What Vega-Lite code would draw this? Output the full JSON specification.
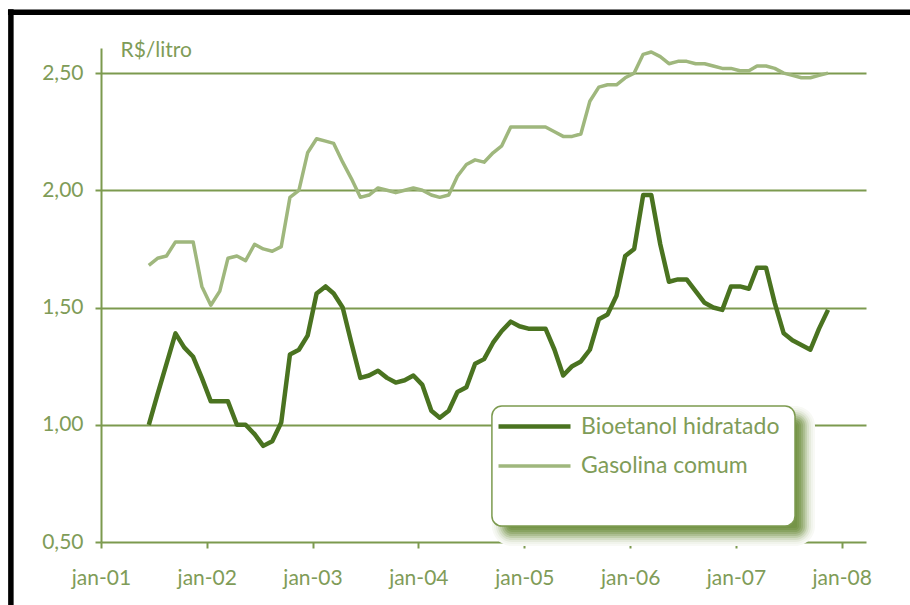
{
  "$schema": "https://vega.github.io/schema/vega-lite/v6.json",
  "width": 765,
  "height": 494,
  "autosize": {"type": "none"},
  "padding": {"left": 101, "top": 48, "right": 44, "bottom": 63},
  "background": "white",
  "config": {
    "view": {"stroke": null},
    "font": "Lato",
    "axis": {
      "labelFont": "Lato",
      "labelFontSize": 21,
      "labelColor": "#7f9c58",
      "tickColor": "#7c9a4f",
      "tickWidth": 2,
      "tickSize": 6,
      "domainColor": "#7c9a4f",
      "domainWidth": 2,
      "gridColor": "#7c9a4f",
      "gridWidth": 2,
      "gridOpacity": 1,
      "titleFont": "Lato",
      "titleFontSize": 21,
      "titleFontWeight": "normal",
      "titleColor": "#7f9c58"
    },
    "legend": {
      "labelFont": "Lato",
      "labelFontSize": 23,
      "labelColor": "#7f9c58",
      "labelLimit": 0
    }
  },
  "datasets": {
    "precos": [
      {"mes": "2001-06-15", "serie": "Bioetanol hidratado", "preco": 1.00},
      {"mes": "2001-07-15", "serie": "Bioetanol hidratado", "preco": 1.13},
      {"mes": "2001-08-15", "serie": "Bioetanol hidratado", "preco": 1.26},
      {"mes": "2001-09-15", "serie": "Bioetanol hidratado", "preco": 1.39},
      {"mes": "2001-10-15", "serie": "Bioetanol hidratado", "preco": 1.33},
      {"mes": "2001-11-15", "serie": "Bioetanol hidratado", "preco": 1.29},
      {"mes": "2001-12-15", "serie": "Bioetanol hidratado", "preco": 1.20},
      {"mes": "2002-01-15", "serie": "Bioetanol hidratado", "preco": 1.10},
      {"mes": "2002-02-15", "serie": "Bioetanol hidratado", "preco": 1.10},
      {"mes": "2002-03-15", "serie": "Bioetanol hidratado", "preco": 1.10},
      {"mes": "2002-04-15", "serie": "Bioetanol hidratado", "preco": 1.00},
      {"mes": "2002-05-15", "serie": "Bioetanol hidratado", "preco": 1.00},
      {"mes": "2002-06-15", "serie": "Bioetanol hidratado", "preco": 0.96},
      {"mes": "2002-07-15", "serie": "Bioetanol hidratado", "preco": 0.91},
      {"mes": "2002-08-15", "serie": "Bioetanol hidratado", "preco": 0.93},
      {"mes": "2002-09-15", "serie": "Bioetanol hidratado", "preco": 1.01},
      {"mes": "2002-10-15", "serie": "Bioetanol hidratado", "preco": 1.30},
      {"mes": "2002-11-15", "serie": "Bioetanol hidratado", "preco": 1.32},
      {"mes": "2002-12-15", "serie": "Bioetanol hidratado", "preco": 1.38},
      {"mes": "2003-01-15", "serie": "Bioetanol hidratado", "preco": 1.56},
      {"mes": "2003-02-15", "serie": "Bioetanol hidratado", "preco": 1.59},
      {"mes": "2003-03-15", "serie": "Bioetanol hidratado", "preco": 1.56},
      {"mes": "2003-04-15", "serie": "Bioetanol hidratado", "preco": 1.50},
      {"mes": "2003-05-15", "serie": "Bioetanol hidratado", "preco": 1.35},
      {"mes": "2003-06-15", "serie": "Bioetanol hidratado", "preco": 1.20},
      {"mes": "2003-07-15", "serie": "Bioetanol hidratado", "preco": 1.21},
      {"mes": "2003-08-15", "serie": "Bioetanol hidratado", "preco": 1.23},
      {"mes": "2003-09-15", "serie": "Bioetanol hidratado", "preco": 1.20},
      {"mes": "2003-10-15", "serie": "Bioetanol hidratado", "preco": 1.18},
      {"mes": "2003-11-15", "serie": "Bioetanol hidratado", "preco": 1.19},
      {"mes": "2003-12-15", "serie": "Bioetanol hidratado", "preco": 1.21},
      {"mes": "2004-01-15", "serie": "Bioetanol hidratado", "preco": 1.17},
      {"mes": "2004-02-15", "serie": "Bioetanol hidratado", "preco": 1.06},
      {"mes": "2004-03-15", "serie": "Bioetanol hidratado", "preco": 1.03},
      {"mes": "2004-04-15", "serie": "Bioetanol hidratado", "preco": 1.06},
      {"mes": "2004-05-15", "serie": "Bioetanol hidratado", "preco": 1.14},
      {"mes": "2004-06-15", "serie": "Bioetanol hidratado", "preco": 1.16},
      {"mes": "2004-07-15", "serie": "Bioetanol hidratado", "preco": 1.26},
      {"mes": "2004-08-15", "serie": "Bioetanol hidratado", "preco": 1.28},
      {"mes": "2004-09-15", "serie": "Bioetanol hidratado", "preco": 1.35},
      {"mes": "2004-10-15", "serie": "Bioetanol hidratado", "preco": 1.40},
      {"mes": "2004-11-15", "serie": "Bioetanol hidratado", "preco": 1.44},
      {"mes": "2004-12-15", "serie": "Bioetanol hidratado", "preco": 1.42},
      {"mes": "2005-01-15", "serie": "Bioetanol hidratado", "preco": 1.41},
      {"mes": "2005-02-15", "serie": "Bioetanol hidratado", "preco": 1.41},
      {"mes": "2005-03-15", "serie": "Bioetanol hidratado", "preco": 1.41},
      {"mes": "2005-04-15", "serie": "Bioetanol hidratado", "preco": 1.32},
      {"mes": "2005-05-15", "serie": "Bioetanol hidratado", "preco": 1.21},
      {"mes": "2005-06-15", "serie": "Bioetanol hidratado", "preco": 1.25},
      {"mes": "2005-07-15", "serie": "Bioetanol hidratado", "preco": 1.27},
      {"mes": "2005-08-15", "serie": "Bioetanol hidratado", "preco": 1.32},
      {"mes": "2005-09-15", "serie": "Bioetanol hidratado", "preco": 1.45},
      {"mes": "2005-10-15", "serie": "Bioetanol hidratado", "preco": 1.47},
      {"mes": "2005-11-15", "serie": "Bioetanol hidratado", "preco": 1.55},
      {"mes": "2005-12-15", "serie": "Bioetanol hidratado", "preco": 1.72},
      {"mes": "2006-01-15", "serie": "Bioetanol hidratado", "preco": 1.75},
      {"mes": "2006-02-15", "serie": "Bioetanol hidratado", "preco": 1.98},
      {"mes": "2006-03-15", "serie": "Bioetanol hidratado", "preco": 1.98},
      {"mes": "2006-04-15", "serie": "Bioetanol hidratado", "preco": 1.77},
      {"mes": "2006-05-15", "serie": "Bioetanol hidratado", "preco": 1.61},
      {"mes": "2006-06-15", "serie": "Bioetanol hidratado", "preco": 1.62},
      {"mes": "2006-07-15", "serie": "Bioetanol hidratado", "preco": 1.62},
      {"mes": "2006-08-15", "serie": "Bioetanol hidratado", "preco": 1.57},
      {"mes": "2006-09-15", "serie": "Bioetanol hidratado", "preco": 1.52},
      {"mes": "2006-10-15", "serie": "Bioetanol hidratado", "preco": 1.50},
      {"mes": "2006-11-15", "serie": "Bioetanol hidratado", "preco": 1.49},
      {"mes": "2006-12-15", "serie": "Bioetanol hidratado", "preco": 1.59},
      {"mes": "2007-01-15", "serie": "Bioetanol hidratado", "preco": 1.59},
      {"mes": "2007-02-15", "serie": "Bioetanol hidratado", "preco": 1.58},
      {"mes": "2007-03-15", "serie": "Bioetanol hidratado", "preco": 1.67},
      {"mes": "2007-04-15", "serie": "Bioetanol hidratado", "preco": 1.67},
      {"mes": "2007-05-15", "serie": "Bioetanol hidratado", "preco": 1.52},
      {"mes": "2007-06-15", "serie": "Bioetanol hidratado", "preco": 1.39},
      {"mes": "2007-07-15", "serie": "Bioetanol hidratado", "preco": 1.36},
      {"mes": "2007-08-15", "serie": "Bioetanol hidratado", "preco": 1.34},
      {"mes": "2007-09-15", "serie": "Bioetanol hidratado", "preco": 1.32},
      {"mes": "2007-10-15", "serie": "Bioetanol hidratado", "preco": 1.41},
      {"mes": "2007-11-15", "serie": "Bioetanol hidratado", "preco": 1.49},
      {"mes": "2001-06-15", "serie": "Gasolina comum", "preco": 1.68},
      {"mes": "2001-07-15", "serie": "Gasolina comum", "preco": 1.71},
      {"mes": "2001-08-15", "serie": "Gasolina comum", "preco": 1.72},
      {"mes": "2001-09-15", "serie": "Gasolina comum", "preco": 1.78},
      {"mes": "2001-10-15", "serie": "Gasolina comum", "preco": 1.78},
      {"mes": "2001-11-15", "serie": "Gasolina comum", "preco": 1.78},
      {"mes": "2001-12-15", "serie": "Gasolina comum", "preco": 1.59},
      {"mes": "2002-01-15", "serie": "Gasolina comum", "preco": 1.51},
      {"mes": "2002-02-15", "serie": "Gasolina comum", "preco": 1.57},
      {"mes": "2002-03-15", "serie": "Gasolina comum", "preco": 1.71},
      {"mes": "2002-04-15", "serie": "Gasolina comum", "preco": 1.72},
      {"mes": "2002-05-15", "serie": "Gasolina comum", "preco": 1.70},
      {"mes": "2002-06-15", "serie": "Gasolina comum", "preco": 1.77},
      {"mes": "2002-07-15", "serie": "Gasolina comum", "preco": 1.75},
      {"mes": "2002-08-15", "serie": "Gasolina comum", "preco": 1.74},
      {"mes": "2002-09-15", "serie": "Gasolina comum", "preco": 1.76},
      {"mes": "2002-10-15", "serie": "Gasolina comum", "preco": 1.97},
      {"mes": "2002-11-15", "serie": "Gasolina comum", "preco": 2.00},
      {"mes": "2002-12-15", "serie": "Gasolina comum", "preco": 2.16},
      {"mes": "2003-01-15", "serie": "Gasolina comum", "preco": 2.22},
      {"mes": "2003-02-15", "serie": "Gasolina comum", "preco": 2.21},
      {"mes": "2003-03-15", "serie": "Gasolina comum", "preco": 2.20},
      {"mes": "2003-04-15", "serie": "Gasolina comum", "preco": 2.12},
      {"mes": "2003-05-15", "serie": "Gasolina comum", "preco": 2.05},
      {"mes": "2003-06-15", "serie": "Gasolina comum", "preco": 1.97},
      {"mes": "2003-07-15", "serie": "Gasolina comum", "preco": 1.98},
      {"mes": "2003-08-15", "serie": "Gasolina comum", "preco": 2.01},
      {"mes": "2003-09-15", "serie": "Gasolina comum", "preco": 2.00},
      {"mes": "2003-10-15", "serie": "Gasolina comum", "preco": 1.99},
      {"mes": "2003-11-15", "serie": "Gasolina comum", "preco": 2.00},
      {"mes": "2003-12-15", "serie": "Gasolina comum", "preco": 2.01},
      {"mes": "2004-01-15", "serie": "Gasolina comum", "preco": 2.00},
      {"mes": "2004-02-15", "serie": "Gasolina comum", "preco": 1.98},
      {"mes": "2004-03-15", "serie": "Gasolina comum", "preco": 1.97},
      {"mes": "2004-04-15", "serie": "Gasolina comum", "preco": 1.98},
      {"mes": "2004-05-15", "serie": "Gasolina comum", "preco": 2.06},
      {"mes": "2004-06-15", "serie": "Gasolina comum", "preco": 2.11},
      {"mes": "2004-07-15", "serie": "Gasolina comum", "preco": 2.13},
      {"mes": "2004-08-15", "serie": "Gasolina comum", "preco": 2.12},
      {"mes": "2004-09-15", "serie": "Gasolina comum", "preco": 2.16},
      {"mes": "2004-10-15", "serie": "Gasolina comum", "preco": 2.19},
      {"mes": "2004-11-15", "serie": "Gasolina comum", "preco": 2.27},
      {"mes": "2004-12-15", "serie": "Gasolina comum", "preco": 2.27},
      {"mes": "2005-01-15", "serie": "Gasolina comum", "preco": 2.27},
      {"mes": "2005-02-15", "serie": "Gasolina comum", "preco": 2.27},
      {"mes": "2005-03-15", "serie": "Gasolina comum", "preco": 2.27},
      {"mes": "2005-04-15", "serie": "Gasolina comum", "preco": 2.25},
      {"mes": "2005-05-15", "serie": "Gasolina comum", "preco": 2.23},
      {"mes": "2005-06-15", "serie": "Gasolina comum", "preco": 2.23},
      {"mes": "2005-07-15", "serie": "Gasolina comum", "preco": 2.24},
      {"mes": "2005-08-15", "serie": "Gasolina comum", "preco": 2.38},
      {"mes": "2005-09-15", "serie": "Gasolina comum", "preco": 2.44},
      {"mes": "2005-10-15", "serie": "Gasolina comum", "preco": 2.45},
      {"mes": "2005-11-15", "serie": "Gasolina comum", "preco": 2.45},
      {"mes": "2005-12-15", "serie": "Gasolina comum", "preco": 2.48},
      {"mes": "2006-01-15", "serie": "Gasolina comum", "preco": 2.50},
      {"mes": "2006-02-15", "serie": "Gasolina comum", "preco": 2.58},
      {"mes": "2006-03-15", "serie": "Gasolina comum", "preco": 2.59},
      {"mes": "2006-04-15", "serie": "Gasolina comum", "preco": 2.57},
      {"mes": "2006-05-15", "serie": "Gasolina comum", "preco": 2.54},
      {"mes": "2006-06-15", "serie": "Gasolina comum", "preco": 2.55},
      {"mes": "2006-07-15", "serie": "Gasolina comum", "preco": 2.55},
      {"mes": "2006-08-15", "serie": "Gasolina comum", "preco": 2.54},
      {"mes": "2006-09-15", "serie": "Gasolina comum", "preco": 2.54},
      {"mes": "2006-10-15", "serie": "Gasolina comum", "preco": 2.53},
      {"mes": "2006-11-15", "serie": "Gasolina comum", "preco": 2.52},
      {"mes": "2006-12-15", "serie": "Gasolina comum", "preco": 2.52},
      {"mes": "2007-01-15", "serie": "Gasolina comum", "preco": 2.51},
      {"mes": "2007-02-15", "serie": "Gasolina comum", "preco": 2.51},
      {"mes": "2007-03-15", "serie": "Gasolina comum", "preco": 2.53},
      {"mes": "2007-04-15", "serie": "Gasolina comum", "preco": 2.53},
      {"mes": "2007-05-15", "serie": "Gasolina comum", "preco": 2.52},
      {"mes": "2007-06-15", "serie": "Gasolina comum", "preco": 2.50},
      {"mes": "2007-07-15", "serie": "Gasolina comum", "preco": 2.49},
      {"mes": "2007-08-15", "serie": "Gasolina comum", "preco": 2.48},
      {"mes": "2007-09-15", "serie": "Gasolina comum", "preco": 2.48},
      {"mes": "2007-10-15", "serie": "Gasolina comum", "preco": 2.49},
      {"mes": "2007-11-15", "serie": "Gasolina comum", "preco": 2.50}
    ]
  },
  "layer": [
    {
      "data": {"name": "precos"},
      "mark": {"type": "line", "interpolate": "linear", "strokeJoin": "round"},
      "encoding": {
        "x": {
          "field": "mes",
          "type": "temporal",
          "scale": {"domain": [{"year": 2001, "month": 1, "date": 1}, {"year": 2008, "month": 3, "date": 25}]},
          "axis": {
            "title": null,
            "domain": false,
            "grid": false,
            "values": [
              {"year": 2001, "month": 1, "date": 1},
              {"year": 2002, "month": 1, "date": 1},
              {"year": 2003, "month": 1, "date": 1},
              {"year": 2004, "month": 1, "date": 1},
              {"year": 2005, "month": 1, "date": 1},
              {"year": 2006, "month": 1, "date": 1},
              {"year": 2007, "month": 1, "date": 1},
              {"year": 2008, "month": 1, "date": 1}
            ],
            "labelExpr": "'jan-' + timeFormat(datum.value, '%y')",
            "labelPadding": 19,
            "labelFlush": false,
            "labelOverlap": false
          }
        },
        "y": {
          "field": "preco",
          "type": "quantitative",
          "scale": {"domain": [0.5, 2.607], "nice": false, "zero": false},
          "axis": {
            "title": "R$/litro",
            "titleAngle": 0,
            "titleAlign": "left",
            "titleBaseline": "alphabetic",
            "titleX": 19,
            "titleY": 8,
            "values": [0.5, 1, 1.5, 2, 2.5],
            "grid": true,
            "labelExpr": "replace(format(datum.value, '.2f'), '.', ',')",
            "labelPadding": 12
          }
        },
        "color": {
          "field": "serie",
          "type": "nominal",
          "scale": {"domain": ["Bioetanol hidratado", "Gasolina comum"], "range": ["#4a7320", "#9fb77d"]},
          "legend": {
            "orient": "none",
            "legendX": 413,
            "legendY": 358,
            "title": null,
            "symbolType": "M-2,0H2",
            "symbolSize": 1296,
            "labelOffset": 26,
            "padding": 0,
            "rowPadding": 7
          }
        },
        "strokeWidth": {
          "field": "serie",
          "type": "nominal",
          "scale": {"domain": ["Bioetanol hidratado", "Gasolina comum"], "range": [4.5, 3.5]},
          "legend": {
            "orient": "none",
            "legendX": 413,
            "legendY": 358,
            "title": null,
            "symbolType": "M-2,0H2",
            "symbolSize": 1296,
            "labelOffset": 26,
            "padding": 0,
            "rowPadding": 7
          }
        }
      }
    },
    {
      "data": {"values": [{}]},
      "mark": {"type": "rect", "color": "#f8f9f5", "cornerRadius": 20},
      "encoding": {
        "x": {"datum": {"year": 2004, "month": 9, "date": 11}, "type": "temporal"},
        "x2": {"datum": {"year": 2007, "month": 10, "date": 1}},
        "y": {"datum": 1.080, "type": "quantitative"},
        "y2": {"datum": 0.4829}
      }
    },
    {
      "data": {"values": [{}]},
      "mark": {"type": "rect", "color": "#f1f4ec", "cornerRadius": 18},
      "encoding": {
        "x": {"datum": {"year": 2004, "month": 9, "date": 18}, "type": "temporal"},
        "x2": {"datum": {"year": 2007, "month": 9, "date": 24}},
        "y": {"datum": 1.0715, "type": "quantitative"},
        "y2": {"datum": 0.4915}
      }
    },
    {
      "data": {"values": [{}]},
      "mark": {"type": "rect", "color": "#e5eadc", "cornerRadius": 16},
      "encoding": {
        "x": {"datum": {"year": 2004, "month": 9, "date": 25}, "type": "temporal"},
        "x2": {"datum": {"year": 2007, "month": 9, "date": 17}},
        "y": {"datum": 1.063, "type": "quantitative"},
        "y2": {"datum": 0.5}
      }
    },
    {
      "data": {"values": [{}]},
      "mark": {"type": "rect", "color": "#d5dec7", "cornerRadius": 14},
      "encoding": {
        "x": {"datum": {"year": 2004, "month": 10, "date": 2}, "type": "temporal"},
        "x2": {"datum": {"year": 2007, "month": 9, "date": 10}},
        "y": {"datum": 1.0545, "type": "quantitative"},
        "y2": {"datum": 0.5085}
      }
    },
    {
      "data": {"values": [{}]},
      "mark": {"type": "rect", "color": "#c1cfac", "cornerRadius": 12},
      "encoding": {
        "x": {"datum": {"year": 2004, "month": 10, "date": 9}, "type": "temporal"},
        "x2": {"datum": {"year": 2007, "month": 9, "date": 3}},
        "y": {"datum": 1.046, "type": "quantitative"},
        "y2": {"datum": 0.5171}
      }
    },
    {
      "data": {"values": [{}]},
      "mark": {"type": "rect", "color": "#acbe91", "cornerRadius": 10},
      "encoding": {
        "x": {"datum": {"year": 2004, "month": 10, "date": 16}, "type": "temporal"},
        "x2": {"datum": {"year": 2007, "month": 8, "date": 28}},
        "y": {"datum": 1.0374, "type": "quantitative"},
        "y2": {"datum": 0.5256}
      }
    },
    {
      "data": {"values": [{}]},
      "mark": {"type": "rect", "color": "#99af77", "cornerRadius": 8},
      "encoding": {
        "x": {"datum": {"year": 2004, "month": 10, "date": 23}, "type": "temporal"},
        "x2": {"datum": {"year": 2007, "month": 8, "date": 21}},
        "y": {"datum": 1.0289, "type": "quantitative"},
        "y2": {"datum": 0.5341}
      }
    },
    {
      "data": {"values": [{}]},
      "mark": {"type": "rect", "color": "#88a361", "cornerRadius": 6},
      "encoding": {
        "x": {"datum": {"year": 2004, "month": 10, "date": 30}, "type": "temporal"},
        "x2": {"datum": {"year": 2007, "month": 8, "date": 14}},
        "y": {"datum": 1.0204, "type": "quantitative"},
        "y2": {"datum": 0.5427}
      }
    },
    {
      "data": {"values": [{}]},
      "mark": {"type": "rect", "color": "#7d9a52", "cornerRadius": 4},
      "encoding": {
        "x": {"datum": {"year": 2004, "month": 11, "date": 6}, "type": "temporal"},
        "x2": {"datum": {"year": 2007, "month": 8, "date": 7}},
        "y": {"datum": 1.0118, "type": "quantitative"},
        "y2": {"datum": 0.5512}
      }
    },
    {
      "data": {"values": [{}]},
      "mark": {"type": "rect", "color": "#759448", "cornerRadius": 2},
      "encoding": {
        "x": {"datum": {"year": 2004, "month": 11, "date": 12}, "type": "temporal"},
        "x2": {"datum": {"year": 2007, "month": 7, "date": 31}},
        "y": {"datum": 1.0033, "type": "quantitative"},
        "y2": {"datum": 0.5597}
      }
    },
    {
      "data": {"values": [{}]},
      "mark": {"type": "rect", "fill": "white", "stroke": "#7c9a4f", "strokeWidth": 1.5, "cornerRadius": 10},
      "encoding": {
        "x": {"datum": {"year": 2004, "month": 9, "date": 11}, "type": "temporal"},
        "x2": {"datum": {"year": 2007, "month": 7, "date": 24}},
        "y": {"datum": 1.08, "type": "quantitative"},
        "y2": {"datum": 0.568}
      }
    },
    {
      "data": {"values": [{}]},
      "mark": {"type": "rule", "color": "black", "strokeWidth": 5.5},
      "encoding": {
        "x": {"datum": {"year": 2000, "month": 2, "date": 15}, "type": "temporal"},
        "x2": {"datum": {"year": 2008, "month": 12, "date": 31}},
        "y": {"datum": 2.76, "type": "quantitative"}
      }
    },
    {
      "data": {"values": [{}]},
      "mark": {"type": "rule", "color": "black", "strokeWidth": 5.5},
      "encoding": {
        "x": {"datum": {"year": 2000, "month": 2, "date": 25}, "type": "temporal"},
        "y": {"datum": 2.772, "type": "quantitative"},
        "y2": {"datum": 0.2}
      }
    }
  ]
}
